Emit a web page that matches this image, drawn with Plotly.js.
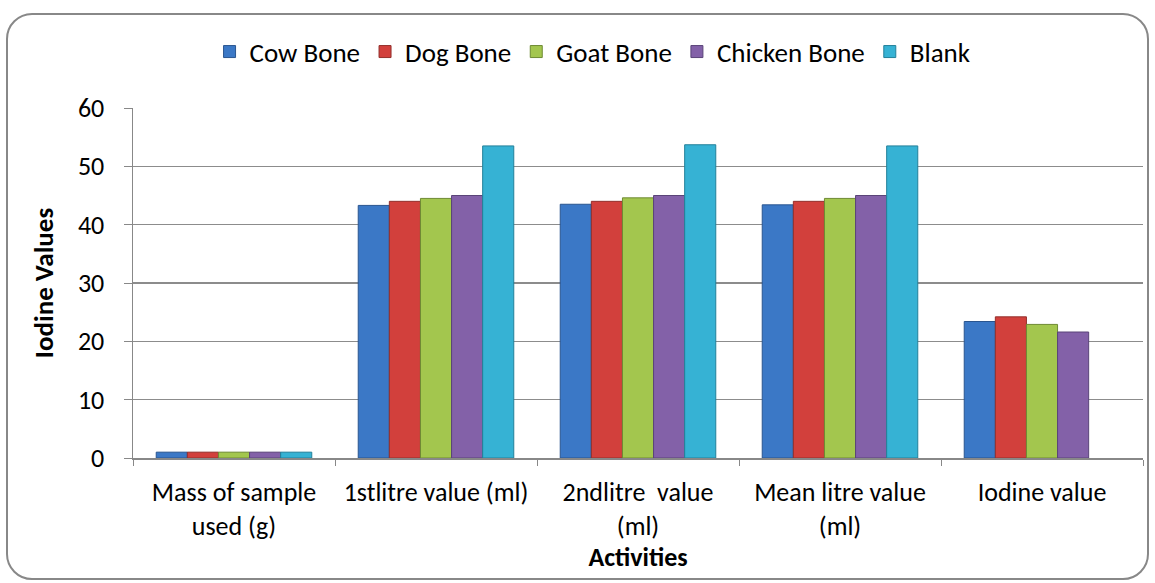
<!DOCTYPE html>
<html>
<head>
<meta charset="utf-8">
<script src="https://cdn.plot.ly/plotly-3.0.1.min.js"></script>
<style>
  html, body { margin: 0; padding: 0; background: #fff; }
  #wrap { position: relative; width: 1155px; height: 583px; }
  #chart { width: 1155px; height: 583px; }
  #frame { position: absolute; left: 6px; top: 13px; width: 1139px; height: 563px;
           border: 2px solid #888; border-radius: 26px; pointer-events: none; }
</style>
</head>
<body>
<div id="wrap">
  <div id="chart"></div>
  <div id="frame"></div>
</div>
<script>
const categories = ["Mass of sample<br>used (g)", "1stlitre value (ml)", "2ndlitre  value<br>(ml)", "Mean litre value<br>(ml)", "Iodine value"];
const seriesNames = ["Cow Bone", "Dog Bone", "Goat Bone", "Chicken Bone", "Blank"];
const cowBone     = [1, 43.3, 43.5, 43.4, 23.4];
const dogBone     = [1, 44.0, 44.0, 44.0, 24.2];
const goatBone    = [1, 44.5, 44.6, 44.5, 22.9];
const chickenBone = [1, 45.0, 45.0, 45.0, 21.6];
const blank       = [1, 53.5, 53.7, 53.5, null];
const seriesValues = [cowBone, dogBone, goatBone, chickenBone, blank];
const colors = ["#3B78C6", "#D2403C", "#A3C64E", "#8361A8", "#36B2D4"];
const lineColors = ["#2A558F", "#93302C", "#6E8A33", "#5A4478", "#23809A"];

const traces = seriesNames.map((name, i) => ({
  type: "bar",
  name: name,
  x: categories,
  y: seriesValues[i],
  marker: { color: colors[i], line: { color: lineColors[i], width: 1 } },
  hoverinfo: "x+y+name"
}));

const font = "Carlito, Calibri, Lato, 'Open Sans', sans-serif";
const layout = {
  width: 1155, height: 583,
  margin: { l: 133, r: 12, t: 108, b: 125 },
  paper_bgcolor: "rgba(0,0,0,0)", plot_bgcolor: "#fff",
  barmode: "group",
  bargap: 0.23,
  bargroupgap: 0,
  font: { family: font, size: 22, color: "#000" },
  showlegend: true,
  legend: {
    orientation: "h", x: 0.455, xanchor: "center", y: 1.16, yanchor: "middle",
    font: { family: font, size: 27, color: "#000" },
    itemwidth: 30, traceorder: "normal", tracegroupgap: 0
  },
  xaxis: {
    type: "category",
    tickson: "boundaries",
    ticks: "outside", ticklen: 6, tickcolor: "#888",
    showline: true, linecolor: "#888", linewidth: 1.5,
    showgrid: false,
    ticklabelstandoff: 10,
    tickfont: { family: font, size: 26, color: "#000" },
    title: { text: "<b>Activities</b>", font: { family: font, size: 26, color: "#000" }, standoff: 0 }
  },
  yaxis: {
    range: [0, 60], dtick: 10,
    ticks: "outside", ticklen: 8, tickcolor: "#888",
    showline: true, linecolor: "#888", linewidth: 1.5,
    showgrid: true, gridcolor: "#8c8c8c", gridwidth: 1.2,
    zeroline: false,
    ticklabelstandoff: 14,
    tickfont: { family: font, size: 26, color: "#000" },
    title: { text: "<b>Iodine Values</b>", font: { family: font, size: 27, color: "#000" }, standoff: 16 }
  }
};

Plotly.newPlot("chart", traces, layout, { displayModeBar: false, staticPlot: true });
</script>
</body>
</html>
